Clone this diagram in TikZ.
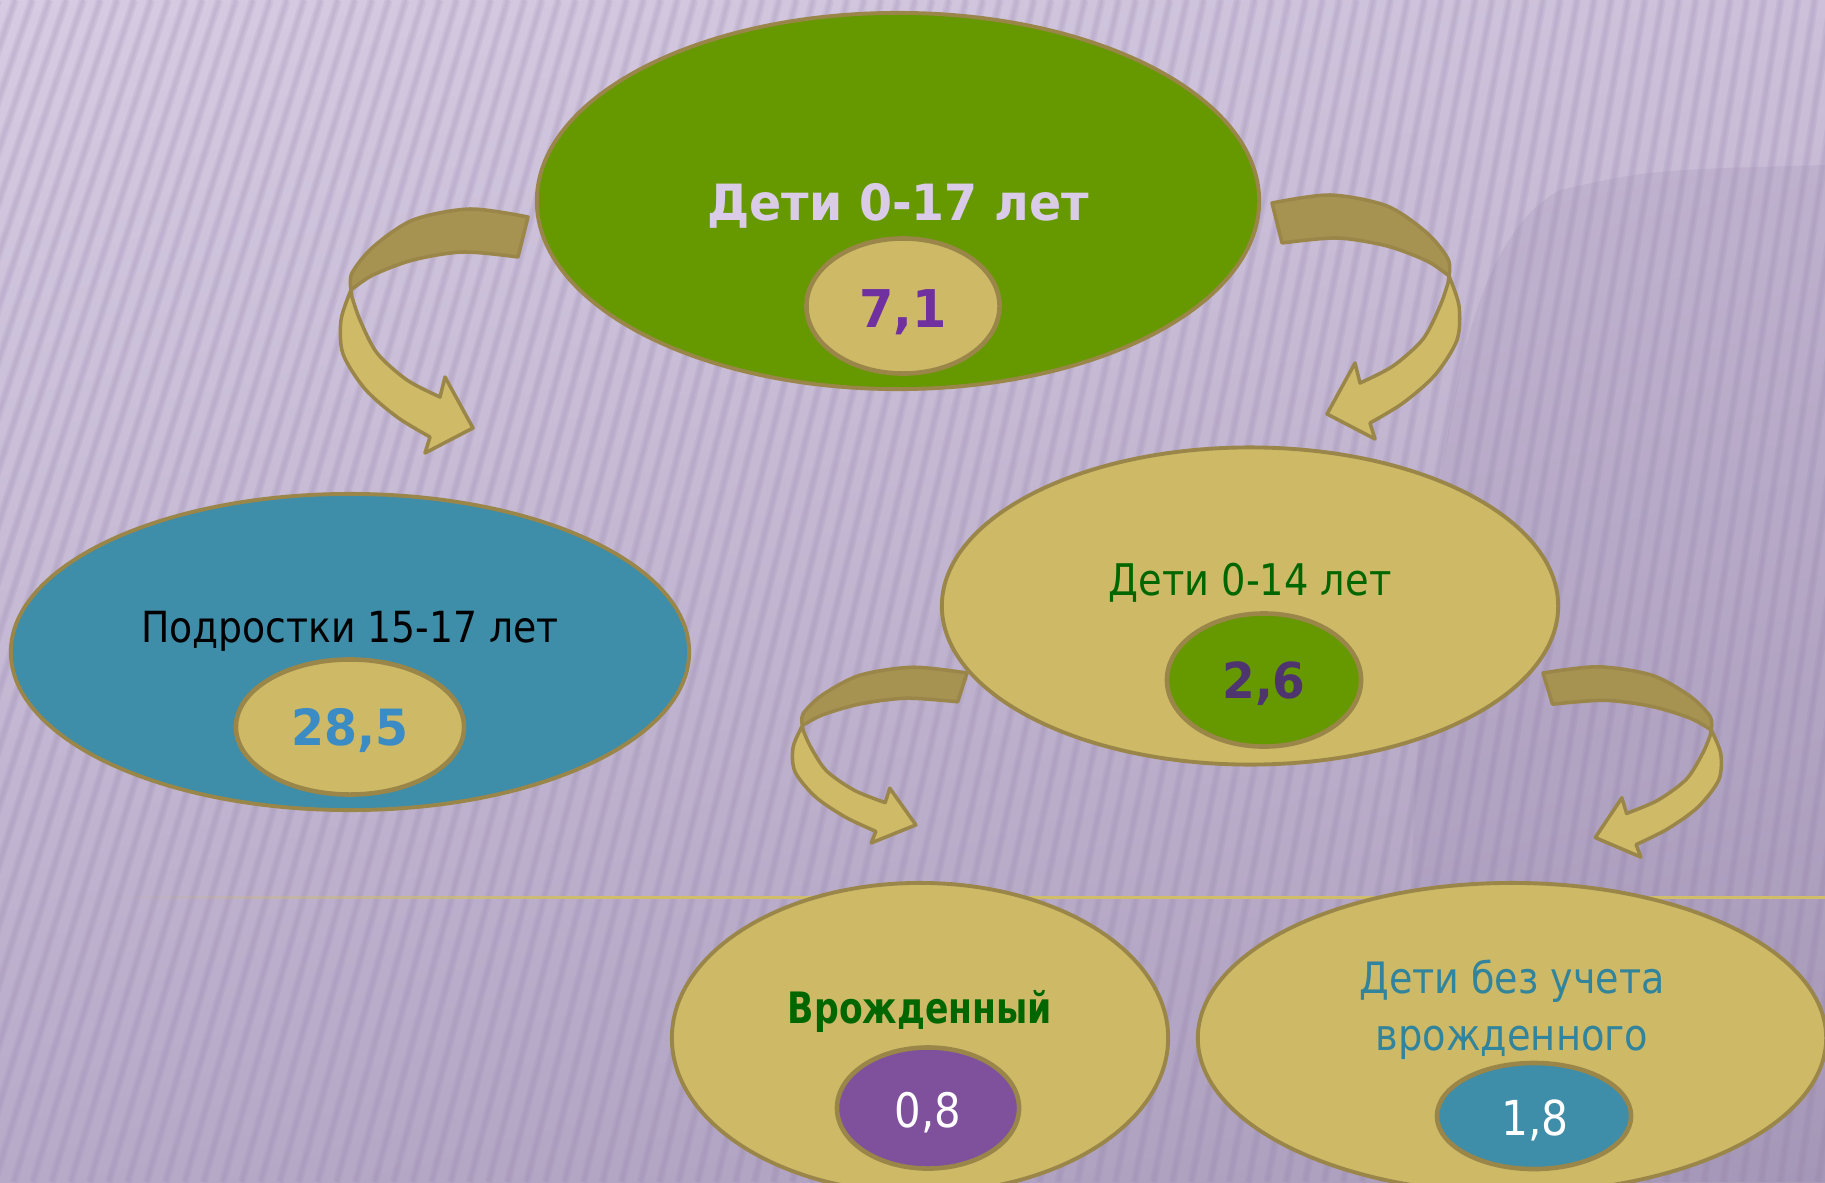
\documentclass[tikz,border=0pt]{standalone}
\usepackage{fontspec}
\setmainfont{DejaVu Sans}[FakeStretch=0.88]
\newfontfamily\heavy{DejaVu Sans}[FakeStretch=0.95]
\newfontfamily\heavynarrow{DejaVu Sans}[FakeStretch=0.8]
\usetikzlibrary{shapes.geometric,fadings,shadings}

\definecolor{leaf}{HTML}{669900}
\definecolor{sand}{HTML}{CEB966}
\definecolor{rim}{HTML}{9A8649}
\definecolor{sea}{HTML}{3E8DA9}
\definecolor{plum}{HTML}{7F519D}
\definecolor{bandback}{HTML}{A69352}
\definecolor{bandfront}{HTML}{CFBA68}
\definecolor{lilac}{HTML}{DACCE8}
\definecolor{grass}{HTML}{006600}
\definecolor{grape}{HTML}{7030A0}
\definecolor{azure}{HTML}{3B8BC5}
\definecolor{aubergine}{HTML}{4F3570}
\definecolor{petrol}{HTML}{31849B}
\definecolor{bgA}{HTML}{D6CBE2}
\definecolor{bgB}{HTML}{CCC0DA}
\definecolor{bgC}{HTML}{B7AAC9}
\definecolor{bgD}{HTML}{AA9CBB}
\definecolor{stripeink}{HTML}{8F7DA6}
\definecolor{gold}{HTML}{CFBD6A}

\tikzset{
  ribbon/.pic={
    \filldraw[ribbonback] (0,0) -- plot[smooth] coordinates {(-10,40) (-65,35) (-115,43) (-155,58) (-177,73)}
      -- plot[smooth] coordinates {(-177,73) (-176,56) (-155,30) (-115,3) (-58,-8) (0,0)} -- cycle;
    \filldraw[ribbonfront] (-177,73) -- plot[smooth] coordinates {(-177,73) (-187,103) (-185,137) (-163,172) (-131,200) (-98,220)}
      -- (-103,236) -- (-55,211) -- (-83,160) -- (-88,180)
      -- plot[smooth] coordinates {(-88,180) (-121,163) (-151,136) (-168,103) (-176,80)} -- cycle;
  }
}

\begin{document}
\begin{tikzpicture}[x=0.01cm, y=-0.01cm,
  blob/.style={ellipse, draw=rim, line width=1.1pt, inner sep=0pt},
  core/.style={ellipse, draw=rim, line width=1.3pt, inner sep=0pt},
  caption/.style={anchor=base, inner sep=0pt, font=\fontsize{#1}{#1}\selectfont},
  boldcaption/.style={anchor=base, inner sep=0pt, font=\heavy\bfseries\fontsize{#1}{#1}\selectfont},
  ribbonback/.style={fill=bandback, draw=rim, line width=1pt, line join=round},
  ribbonfront/.style={fill=bandfront, draw=rim, line width=1pt, line join=round},
  stripe/.style={draw=stripeink, line width=2.2pt, opacity=0.13},
  stripecore/.style={draw=stripeink, line width=1pt, opacity=0.12}]

\useasboundingbox (0,0) rectangle (1825,1182);

% background
\shade[upper left=bgA, upper right=bgB, lower left=bgC, lower right=bgD] (0,0) rectangle (1825,1182);
\fill[stripeink, opacity=0.15] (1400,1182) .. controls (1420,600) and (1430,260) .. (1560,190)
  .. controls (1650,170) .. (1825,165) -- (1825,1182) -- cycle;
\begin{scope}
  \clip (0,0) rectangle (1825,1182);
  \foreach \i in {0,...,122}{
    \pgfmathsetmacro{\xm}{-260+18*\i}
    \pgfmathsetmacro{\rt}{(3385-\xm)/10550}
    \draw[stripe] ({\xm+\rt*600},0) -- ({\xm-\rt*582},1182);
    \draw[stripecore] ({\xm+\rt*600},0) -- ({\xm-\rt*582},1182);
  }
\end{scope}
\fill[gold, path fading=west] (110,895.5) rectangle (600,898.5);
\fill[gold] (600,895.5) rectangle (1825,898.5);

% ellipses
\node[blob, fill=leaf, minimum width=7.22cm, minimum height=3.76cm] (all17) at (898,201) {};
\node[core, fill=sand, minimum width=1.93cm, minimum height=1.35cm] (v71) at (903,306) {};

\node[blob, fill=sea, minimum width=6.78cm, minimum height=3.16cm] (teen) at (350,652) {};
\node[core, fill=sand, minimum width=2.28cm, minimum height=1.35cm] (v285) at (350,727) {};

\node[blob, fill=sand, minimum width=6.16cm, minimum height=3.17cm] (kids14) at (1250,606) {};
\node[core, fill=leaf, minimum width=1.94cm, minimum height=1.33cm] (v26) at (1264,680) {};

\node[blob, fill=sand, minimum width=4.96cm, minimum height=3.10cm] (congen) at (920,1038) {};
\node[core, fill=plum, minimum width=1.82cm, minimum height=1.21cm] (v08) at (928,1108) {};

\node[blob, fill=sand, minimum width=6.28cm, minimum height=3.10cm] (rest) at (1512,1038) {};
\node[core, fill=sea, minimum width=1.94cm, minimum height=1.06cm] (v18) at (1534,1116) {};

% labels
\node[boldcaption=14.2, text=lilac] (lbl17) at (898,220) {Дети 0-17 лет};
\node[boldcaption=14.8, text=grape] (num71) at (903,327) {7,1};
\node[caption=12.2, text=black] (lblteen) at (350,642) {Подростки 15-17 лет};
\node[boldcaption=14.2, text=azure] (num285) at (350,745) {28,5};
\node[caption=12.4, text=grass] (lbl14) at (1250,595) {Дети 0-14 лет};
\node[boldcaption=14.1, text=aubergine] (num26) at (1264,698) {2,6};
\node[anchor=base, inner sep=0pt, font=\heavynarrow\bfseries\fontsize{12.3}{12.3}\selectfont, text=grass] (lblcong) at (920,1023) {Врожденный};
\node[caption=13.5, text=white] (num08) at (928,1127) {0,8};
\node[caption=12.3, text=petrol] (lblrest1) at (1512,993) {Дети без учета};
\node[caption=12.4, text=petrol] (lblrest2) at (1512,1050) {врожденного};
\node[caption=13.7, text=white] (num18) at (1535,1135) {1,8};

% arrows
\pic at (528,217) {ribbon};
\pic[xscale=-1] at (1272,203) {ribbon};
\pic[xscale=0.93, yscale=0.72] at (967,673) {ribbon};
\pic[xscale=-0.95, yscale=0.78] at (1543,673) {ribbon};
\end{tikzpicture}
\end{document}
